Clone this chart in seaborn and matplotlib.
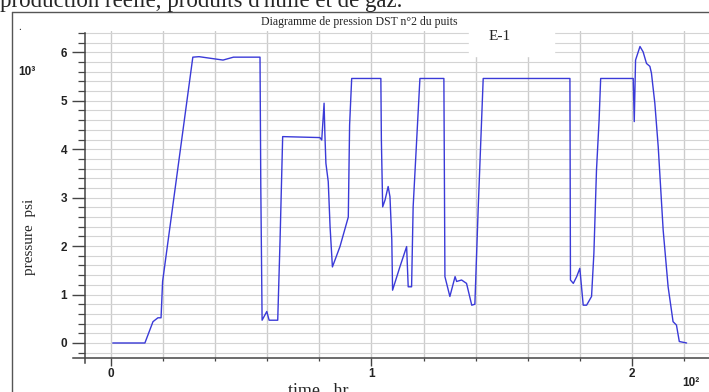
"""DST pressure chart (well E-1) redrawn with seaborn."""

import matplotlib
matplotlib.use("Agg")
import matplotlib.pyplot as plt
import seaborn as sns
import pandas as pd
from matplotlib.ticker import MultipleLocator, FuncFormatter
from matplotlib.lines import Line2D
from matplotlib.patches import Rectangle

# pressure record
time_hr = [0.65, 13.0, 16.1, 18.0, 19.2, 19.8, 31.4, 33.8, 43.0, 47.0, 57.2,
           57.5, 58.0, 59.8, 60.7, 64.0, 64.9, 65.9, 80.2, 80.9, 81.8, 82.1,
           82.5, 83.4, 84.1, 85.0, 87.9, 91.1, 91.6, 92.4, 103.6, 103.8,
           104.3, 105.2, 106.4, 107.1, 107.8, 108.1, 110.9, 113.5, 114.1,
           115.4, 116.0, 118.6, 127.8, 128.2, 130.1, 132.1, 132.7, 134.6,
           136.5, 138.5, 139.7, 141.0, 142.9, 176.2, 176.4, 177.5, 178.8,
           180.0, 181.3, 182.6, 184.5, 185.4, 186.4, 187.4, 188.0, 200.5,
           200.9, 201.4, 203.1, 204.3, 205.6, 206.9, 207.5, 208.8, 210.1,
           212.0, 213.9, 215.8, 217.1, 218.2, 221.0]
pressure_psi = [0, 0, 440, 520, 520, 1270, 5900, 5910, 5840, 5900, 5900,
                3230, 470, 650, 470, 470, 2130, 4260, 4240, 4190, 4950, 4330,
                3710, 3330, 2400, 1570, 1990, 2600, 4500, 5460, 5460, 4190,
                2810, 2950, 3230, 3020, 2130, 1090, 1570, 1990, 1160,
                1160, 2810, 5460, 5460, 1370, 960, 1370, 1270, 1300,
                1230, 780, 800, 2810, 5460, 5460, 1300, 1230, 1370,
                1540, 780, 780, 960, 1850, 3570, 4600, 5460, 5460,
                4570, 5840, 6120, 6010, 5770, 5710, 5570, 4950, 4050,
                2330, 1160, 440, 370, 30, 0]

title = "Diagramme de pression DST n°2 du puits"
well = "E-1"
page_text = "production réelle, produits d'huile et de gaz."

W, H = 709, 392


def fx(px):
    return px / W


def fy(py):
    return 1 - py / H


sns.set_style("white")
plt.rcParams["font.family"] = ["Liberation Serif", "DejaVu Serif"]

fig = plt.figure(figsize=(W / 100, H / 100), dpi=100)
ax = fig.add_axes([fx(85), fy(358), fx(709) - fx(85), fy(31) - fy(358)])

df = pd.DataFrame({"time_hr": time_hr, "pressure_psi": pressure_psi})
sns.lineplot(data=df, x="time_hr", y="pressure_psi", sort=False, estimator=None,
             color="#3a3ad8", lw=1.0, ax=ax)

ax.set_xlim(-10, 229.6)
ax.set_ylim(-310, 6440)
ax.xaxis.set_major_locator(MultipleLocator(100))
ax.xaxis.set_minor_locator(MultipleLocator(20))
ax.yaxis.set_major_locator(MultipleLocator(1000))
ax.yaxis.set_minor_locator(MultipleLocator(200))
ax.xaxis.set_major_formatter(FuncFormatter(lambda v, p: f"{v / 100:.0f}"))
ax.yaxis.set_major_formatter(FuncFormatter(lambda v, p: f"{v / 1000:.0f}"))
ax.set_xlabel("")
ax.set_ylabel("")

ax.grid(which="both", axis="y", color="#d4d4d4", lw=0.8)
ax.grid(which="both", axis="x", color="#cccccc", lw=1.0)
ax.set_axisbelow(True)

for side in ["top", "right"]:
    ax.spines[side].set_visible(False)
for side in ["left", "bottom"]:
    ax.spines[side].set_color("#444444")
    ax.spines[side].set_linewidth(1.1)
ax.spines["left"].set_bounds(-410, 6400)
ax.spines["bottom"].set_bounds(-14.6, 240)

ax.tick_params(axis="y", which="major", direction="out", length=9.4, width=1.0,
               color="#444444", pad=3.5, labelsize=8.5, left=True)
ax.tick_params(axis="y", which="minor", direction="out", length=5, width=0.9,
               color="#444444", left=True)
ax.tick_params(axis="x", which="major", direction="out", length=5.5, width=1.0,
               color="#444444", pad=1.5, labelsize=8.5, bottom=True)
ax.tick_params(axis="x", which="minor", direction="out", length=2.5, width=0.9,
               color="#444444", bottom=True)
plt.setp(ax.get_xticklabels() + ax.get_yticklabels(),
         family="Liberation Sans", fontweight="bold", color="#222222")

# scan context and annotations
fig.text(fx(0), fy(7), page_text, fontsize=16.5, ha="left", va="baseline")
fig.add_artist(Line2D([fx(11.5), fx(11.5)], [fy(12), 0], color="#555555", lw=1.0))
fig.add_artist(Line2D([fx(11.5), 1], [fy(12), fy(12)], color="#555555", lw=1.0))
fig.text(fx(18), fy(30), ".", fontsize=8)
fig.text(fx(359), fy(22), title, fontsize=8.5, ha="center", va="center")
fig.add_artist(Rectangle((fx(469), fy(56)), fx(554) - fx(469), fy(24) - fy(56),
                         transform=fig.transFigure, color="white", zorder=3))
fig.text(fx(500), fy(36), well, fontsize=11, ha="center", va="center", zorder=4)
fig.text(fx(27), fy(72), "10³", fontsize=8.5, family="Liberation Sans",
         fontweight="bold", ha="center", va="center", color="#222222")
fig.text(fx(30), fy(237), "pressure  psi", fontsize=11, rotation=90,
         ha="center", va="center")
fig.text(fx(318), fy(383), "time   hr", fontsize=13, ha="center", va="top")
fig.text(fx(691), fy(383), "10²", fontsize=8.5, family="Liberation Sans",
         fontweight="bold", ha="center", va="center", color="#222222")

fig.savefig("out.png", dpi=100)
